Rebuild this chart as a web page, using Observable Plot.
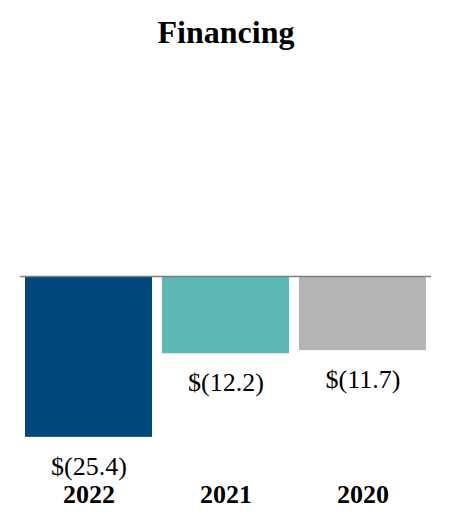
<!DOCTYPE html>
<html>
<head>
<meta charset="utf-8">
<script src="https://cdn.jsdelivr.net/npm/d3@7"></script>
<script src="https://cdn.jsdelivr.net/npm/@observablehq/plot@0.6"></script>
<style>
  html, body { margin: 0; padding: 0; background: #fff; }
  body { width: 452px; height: 532px; overflow: hidden; font-family: "Liberation Serif", "Times New Roman", serif; }
  #title { height: 64px; line-height: 64px; text-align: center; font-size: 32px; font-weight: bold; color: #000; }
</style>
</head>
<body>
<div id="title">Financing</div>
<div id="chart"></div>
<script>
const years = ["2022", "2021", "2020"];
const values = [-25.4, -12.2, -11.7];
const labels = ["$(25.4)", "$(12.2)", "$(11.7)"];
const colors = ["#00477E", "#5BB8B2", "#B5B5B5"];

const data = years.map((y, i) => ({year: y, value: values[i], label: labels[i]}));

const chart = Plot.plot({
  width: 452,
  height: 468,
  marginTop: 212,
  marginBottom: 66,
  marginLeft: 20,
  marginRight: 21,
  style: { fontFamily: "Liberation Serif, Times New Roman, serif", background: "#fff" },
  x: { domain: years, paddingInner: 0.073, paddingOuter: 0.0365, axis: null },
  y: { domain: [-30, 0], axis: null },
  color: { domain: years, range: colors },
  marks: [
    Plot.barY(data, { x: "year", y: "value", fill: "year" }),
    Plot.ruleY([0], { stroke: "#7f7f7f", strokeWidth: 1.5 }),
    Plot.text(data, { x: "year", y: "value", text: "label", dy: 29, fontSize: 26, fill: "#000" }),
    Plot.axisX({ tickSize: 0, tickPadding: 18, fontSize: 26, fontWeight: "bold", fill: "#000", label: null })
  ]
});
document.getElementById("chart").appendChild(chart);
</script>
</body>
</html>
